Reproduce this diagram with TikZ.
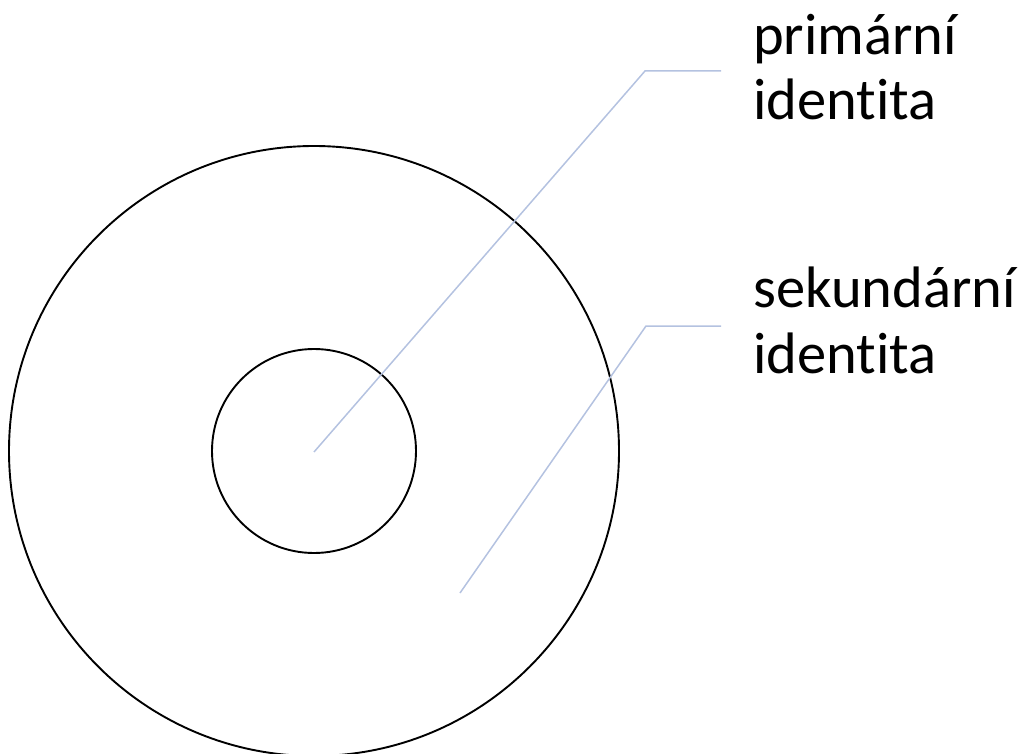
\documentclass[tikz,border=0pt]{standalone}
\usepackage{fontspec}
\setmainfont{Carlito}[Ligatures=NoCommon]
\definecolor{leadc}{HTML}{B4C2E0}
\tikzset{
  ring/.style={draw=black, line width=1.9pt, circle, inner sep=0pt},
  leader/.style={draw=leadc, line width=1.5pt},
  lbl/.style={anchor=base west, inner sep=0pt, align=left,
    font=\fontsize{58.5}{65.5}\selectfont}
}
\begin{document}
\begin{tikzpicture}[x=1pt,y=-1pt]
\useasboundingbox (0,0) rectangle (1025,754);
\node[ring, minimum size=610pt] (outer) at (314,451) {};
\node[ring, minimum size=204pt] (inner) at (314,451) {};
\coordinate (p1) at (314,452);
\coordinate (k1) at (645,71);
\coordinate (e1) at (721,71);
\coordinate (p2) at (460,593);
\coordinate (k2) at (646,326);
\coordinate (e2) at (721,326);
\draw[leader] (p1) -- (k1) -- (e1);
\draw[leader] (p2) -- (k2) -- (e2);
\node[lbl] (prim) at (753,120) {primární\\identita};
\node[lbl] (sek) at (753,373) {sekundární\\identita};
\end{tikzpicture}
\end{document}
